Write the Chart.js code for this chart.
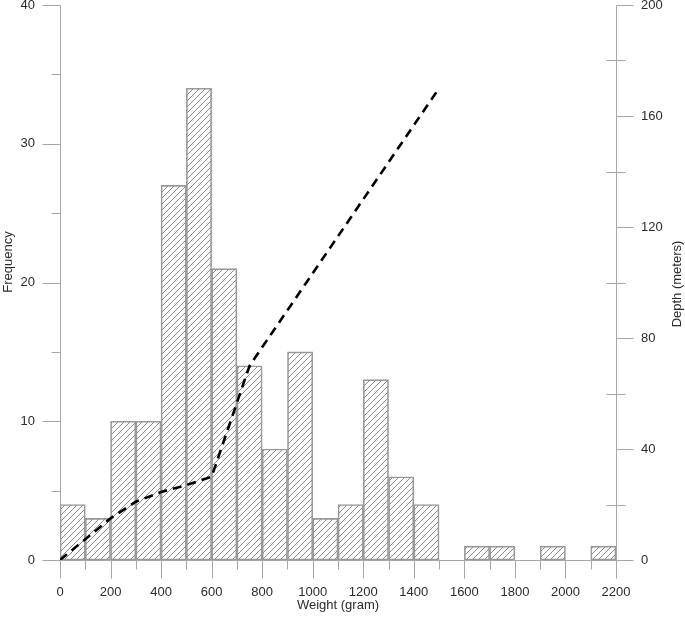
<!DOCTYPE html>
<html>
<head>
<meta charset="utf-8">
<script src="https://cdn.jsdelivr.net/npm/chart.js@4.4.0/dist/chart.umd.min.js"></script>
<style>
  html, body { margin: 0; padding: 0; background: #ffffff; }
  canvas { display: block; }
</style>
</head>
<body>
<canvas id="c" width="685" height="618"></canvas>
<script>
// ---- data ----
const binStarts = [0,100,200,300,400,500,600,700,800,900,1000,1100,1200,1300,1400,1500,1600,1700,1800,1900,2000,2100];
const binWidth = 100;
const frequency = [4,3,10,10,27,34,21,14,8,15,3,4,13,6,4,0,1,1,0,1,0,1];
const depthWeight = [0,200,300,400,500,600,750,1500];
const depthMeters = [0,15,21,24.5,27,30,70,170];
const xTickLabels = [0,200,400,600,800,1000,1200,1400,1600,1800,2000,2200];
const freqTicks = [0,10,20,30,40];
const depthTicks = [0,40,80,120,160,200];

const AXIS = '#a6a6a6';
const TEXT = '#2b2b2b';
const FONT = 'Liberation Sans, Arial, sans-serif';

function makeHatch() {
  const w = 6, h = 6;
  const c = document.createElement('canvas');
  c.width = w; c.height = h;
  const g = c.getContext('2d');
  g.strokeStyle = '#8a8a8a';
  g.lineWidth = 1;
  g.beginPath();
  g.moveTo(0, h); g.lineTo(w, 0);
  g.moveTo(-1, 1); g.lineTo(1, -1);
  g.moveTo(w - 1, h + 1); g.lineTo(w + 1, h - 1);
  g.stroke();
  return g.createPattern(c, 'repeat');
}

const axesPlugin = {
  id: 'axesPlugin',
  beforeDatasetsDraw(chart) {
    const { ctx } = chart;
    const x = chart.scales.x, y = chart.scales.y, y2 = chart.scales.y2;
    const px = v => Math.round(x.getPixelForValue(v)) + 0.5;
    const py = v => Math.round(y.getPixelForValue(v)) + 0.5;
    const py2 = v => Math.round(y2.getPixelForValue(v)) + 0.5;
    const x0 = px(0), xR = px(2200), y0 = py(0), yT = py(40);
    ctx.save();
    ctx.strokeStyle = AXIS;
    ctx.lineWidth = 1;
    ctx.beginPath();
    ctx.moveTo(x0, yT); ctx.lineTo(x0, y0);
    ctx.moveTo(xR, py2(200)); ctx.lineTo(xR, y0);
    ctx.moveTo(x0, y0); ctx.lineTo(xR, y0);
    for (let v = 0; v <= 40; v += 5) {
      const len = (v % 10 === 0) ? 18 : 9;
      ctx.moveTo(x0 - len, py(v)); ctx.lineTo(x0, py(v));
    }
    for (let v = 0; v <= 200; v += 20) {
      if (v % 40 === 0) { ctx.moveTo(xR, py2(v)); ctx.lineTo(xR + 17, py2(v)); }
      else { ctx.moveTo(xR - 10, py2(v)); ctx.lineTo(xR + 9, py2(v)); }
    }
    for (let v = 0; v <= 2200; v += 100) {
      const len = (v % 200 === 0) ? 18 : 9;
      ctx.moveTo(px(v), y0); ctx.lineTo(px(v), y0 + len);
    }
    ctx.stroke();
    ctx.restore();
  },
  afterDraw(chart) {
    const { ctx } = chart;
    const x = chart.scales.x;
    ctx.save();
    ctx.fillStyle = TEXT;
    ctx.font = '13px ' + FONT;
    ctx.textAlign = 'center';
    ctx.textBaseline = 'middle';
    const cx = (x.getPixelForValue(0) + x.getPixelForValue(2200)) / 2;
    ctx.fillText('Weight (gram)', cx, 605);
    ctx.save();
    ctx.translate(8, 262);
    ctx.rotate(-Math.PI / 2);
    ctx.fillText('Frequency', 0, 0);
    ctx.restore();
    ctx.save();
    ctx.translate(677, 284);
    ctx.rotate(-Math.PI / 2);
    ctx.fillText('Depth (meters)', 0, 0);
    ctx.restore();
    ctx.restore();
  }
};

const fitTo = size => (s) => {
  if (s.isHorizontal()) s.height = size; else s.width = size;
  s.paddingTop = 0; s.paddingBottom = 0; s.paddingLeft = 0; s.paddingRight = 0;
};

const hatch = makeHatch();

new Chart(document.getElementById('c'), {
  type: 'bar',
  data: {
    datasets: [
      {
        type: 'line',
        label: 'Depth',
        data: depthWeight.map((w, i) => ({ x: w, y: depthMeters[i] })),
        yAxisID: 'y2',
        xAxisID: 'x',
        borderColor: '#000000',
        borderWidth: 2.6,
        borderDash: [9, 6],
        pointRadius: 0,
        tension: 0,
        fill: false,
        order: 0
      },
      {
        type: 'bar',
        label: 'Frequency',
        data: binStarts.map((b, i) => ({ x: b + binWidth / 2, y: frequency[i] })),
        yAxisID: 'y',
        xAxisID: 'x',
        backgroundColor: hatch,
        borderColor: '#9a9a9a',
        borderWidth: 1,
        borderSkipped: false,
        barPercentage: 1,
        categoryPercentage: 1,
        order: 1
      }
    ]
  },
  options: {
    responsive: false,
    animation: false,
    devicePixelRatio: 1,
    layout: { padding: { top: 5, left: 0, right: 0, bottom: 0 } },
    plugins: { legend: { display: false }, tooltip: { enabled: false } },
    scales: {
      x: {
        type: 'linear', position: 'bottom', min: 0, max: 2200, offset: false,
        grid: { display: false, drawTicks: false, tickLength: 0 },
        border: { display: false },
        ticks: {
          stepSize: 200, autoSkip: false, maxRotation: 0, padding: 25,
          color: TEXT, font: { family: FONT, size: 13 },
          callback: v => xTickLabels.includes(v) ? String(v) : ''
        },
        afterFit: fitTo(58)
      },
      y: {
        type: 'linear', position: 'left', min: 0, max: 40,
        grid: { display: false, drawTicks: false, tickLength: 0 },
        border: { display: false },
        ticks: {
          stepSize: 10, padding: 25, color: TEXT, font: { family: FONT, size: 13 },
          callback: v => freqTicks.includes(v) ? String(v) : ''
        },
        afterFit: fitTo(60)
      },
      y2: {
        type: 'linear', position: 'right', min: 0, max: 200,
        grid: { display: false, drawTicks: false, tickLength: 0 },
        border: { display: false },
        ticks: {
          stepSize: 40, padding: 25, color: TEXT, font: { family: FONT, size: 13 },
          callback: v => depthTicks.includes(v) ? String(v) : ''
        },
        afterFit: fitTo(69)
      }
    }
  },
  plugins: [axesPlugin]
});
</script>
</body>
</html>
